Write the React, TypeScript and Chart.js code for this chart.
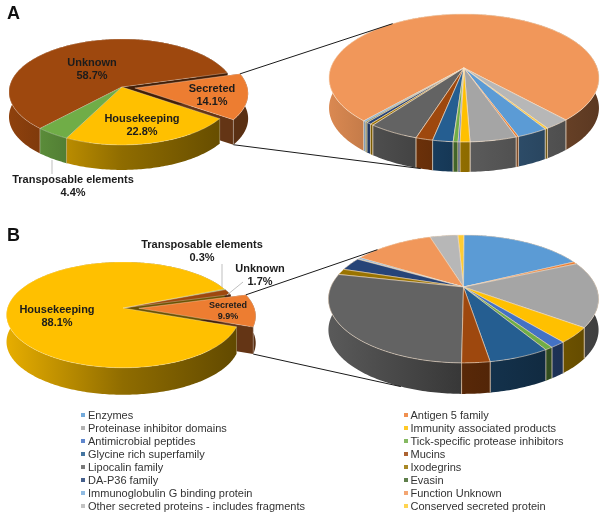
import React, { useEffect, useRef } from "react";
import { Chart, registerables } from "chart.js";

Chart.register(...registerables);

// ---------- data ----------
const overviewCategories = ["Secreted", "Housekeeping", "Transposable elements", "Unknown"];
const overviewColors = ["#ED7D31", "#FFC000", "#70AD47", "#9E480E"];
const overviewValuesA = [14.1, 22.8, 4.4, 58.7];
const overviewValuesB = [9.9, 88.1, 0.3, 1.7];

const secretedCategories = [
  "Enzymes", "Antigen 5 family",
  "Proteinase inhibitor domains", "Immunity associated products",
  "Antimicrobial peptides", "Tick-specific protease inhibitors",
  "Glycine rich superfamily", "Mucins",
  "Lipocalin family", "Ixodegrins",
  "DA-P36 family", "Evasin",
  "Immunoglobulin G binding protein", "Function Unknown",
  "Other secreted proteins - includes fragments", "Conserved secreted protein",
];
const secretedColors = [
  "#5B9BD5", "#ED7D31", "#A5A5A5", "#FFC000", "#4472C4", "#70AD47", "#255E91", "#9E480E",
  "#636363", "#997300", "#264478", "#43682B", "#7CAFDD", "#F1975A", "#B7B7B7", "#FFCD33",
];
const secretedValuesA = [3.2, 0.25, 4.8, 1.0, 0.2, 0.5, 2.1, 1.75, 5.25, 0.35, 0.5, 0.2, 0.3, 76.6, 2.65, 0.3];
const secretedValuesB = [17.7, 0.6, 16.6, 3.9, 1.6, 0.8, 6.1, 2.8, 28.2, 1.5, 3.3, 0.1, 0.4, 11.5, 4.0, 0.9];

// ---------- layout ----------
type Pie = { cx: number; cy: number; R: number; Ry: number; p: number; depth: number };
const pieLeftA: Pie = { cx: 122, cy: 87, R: 112.5, Ry: 52.5, p: 0.094, depth: 25 };
const pieLeftB: Pie = { cx: 123, cy: 308, R: 115.5, Ry: 52, p: 0.13, depth: 27 };
const pieRightA: Pie = { cx: 464, cy: 68, R: 133.3, Ry: 62.4, p: 0.156, depth: 30 };
const pieRightB: Pie = { cx: 463.5, cy: 287, R: 132.7, Ry: 61.7, p: 0.187, depth: 31 };

const FONT = '"Liberation Sans", Arial, sans-serif';
const RAD = Math.PI / 180;

function shade(hex: string, f: number) {
  const n = parseInt(hex.slice(1), 16);
  const c = [(n >> 16) & 255, (n >> 8) & 255, n & 255].map((v) => Math.round(v * f));
  return `rgb(${c[0]},${c[1]},${c[2]})`;
}

function project(pie: Pie, a: number, r: number, ex: number, ez: number, lift: number) {
  const x = r * Math.cos(a) + ex;
  const z = r * Math.sin(a) + ez;
  const s = 1 / (1 - pie.p * z);
  return [pie.cx + pie.R * x * s, pie.cy + pie.Ry * z * s + lift];
}

function tracePoly(ctx: CanvasRenderingContext2D, pts: number[][]) {
  ctx.beginPath();
  pts.forEach((q, i) => (i ? ctx.lineTo(q[0], q[1]) : ctx.moveTo(q[0], q[1])));
  ctx.closePath();
}

function arcPoints(pie: Pie, s: number, e: number, ex: number, ez: number, lift: number) {
  const n = Math.max(2, Math.ceil((e - s) / RAD));
  const pts: number[][] = [];
  for (let i = 0; i <= n; i++) pts.push(project(pie, s + ((e - s) * i) / n, 1, ex, ez, lift));
  return pts;
}

function explodeOf(arc: any) {
  const e = (arc.options.offset || 0) / arc.outerRadius;
  const mid = (arc.startAngle + arc.endAngle) / 2;
  return [e * Math.cos(mid), e * Math.sin(mid), e];
}

function pie3d(pie: Pie) {
  return {
    id: "pie3d",
    beforeDatasetsDraw(chart: any) {
      const ctx: CanvasRenderingContext2D = chart.ctx;
      const arcs: any[] = chart.getDatasetMeta(0).data.slice();
      const key = (arc: any) => {
        const [, ez, e] = explodeOf(arc);
        const mid = (arc.startAngle + arc.endAngle) / 2;
        return (e > 0 ? -10 : 0) + Math.sin(mid) * 0.6 + ez;
      };
      const order = arcs.slice().sort((a, b) => key(a) - key(b));
      ctx.save();
      ctx.lineJoin = "round";
      // walls
      for (const arc of order) {
        const [ex, ez] = explodeOf(arc);
        const base: string = arc.options.backgroundColor;
        const s = arc.startAngle;
        const e = arc.endAngle;
        const apex = project(pie, 0, 0, ex, ez, 0);
        const apexLow = project(pie, 0, 0, ex, ez, pie.depth);
        const edge = arc.options.borderColor;
        ctx.lineWidth = arc.options.borderWidth;
        ctx.strokeStyle = edge;
        [s, e].forEach((a) => {
          const t = project(pie, a, 1, ex, ez, 0);
          const b = project(pie, a, 1, ex, ez, pie.depth);
          tracePoly(ctx, [apex, t, b, apexLow]);
          ctx.fillStyle = shade(base, 0.42);
          ctx.fill();
        });
        const top = arcPoints(pie, s, e, ex, ez, 0);
        const low = arcPoints(pie, s, e, ex, ez, pie.depth).reverse();
        const g = ctx.createLinearGradient(pie.cx - pie.R, 0, pie.cx + pie.R, 0);
        g.addColorStop(0, shade(base, 0.9));
        g.addColorStop(0.5, shade(base, 0.56));
        g.addColorStop(1, shade(base, 0.38));
        tracePoly(ctx, top.concat(low));
        ctx.fillStyle = g;
        ctx.fill();
        // lines between slices on the visible rim
        [s, e].forEach((a) => {
          if (Math.sin(a) > -0.05) {
            const t = project(pie, a, 1, ex, ez, 0);
            const b = project(pie, a, 1, ex, ez, pie.depth);
            ctx.beginPath();
            ctx.moveTo(t[0], t[1]);
            ctx.lineTo(b[0], b[1]);
            ctx.stroke();
          }
        });
      }
      // top faces
      for (const arc of order) {
        const [ex, ez] = explodeOf(arc);
        const apex = project(pie, 0, 0, ex, ez, 0);
        const rim = arcPoints(pie, arc.startAngle, arc.endAngle, ex, ez, 0);
        tracePoly(ctx, [apex, ...rim]);
        ctx.fillStyle = arc.options.backgroundColor;
        ctx.fill();
        ctx.lineWidth = arc.options.borderWidth;
        ctx.strokeStyle = arc.options.borderColor;
        ctx.stroke();
      }
      ctx.restore();
      return false;
    },
  };
}

type Lbl = { i: number; x: number; y: number; size: number; gap: number };
type Leader = { from: number[]; to: number[] };

function annotations(
  pie: Pie,
  detail: Pie,
  letter: { text: string; x: number; y: number },
  labels: Lbl[],
  leaders: Leader[],
  upperAngle: number,
  lowerAngle: number,
) {
  return {
    id: "annotations",
    afterDraw(chart: any) {
      const ctx: CanvasRenderingContext2D = chart.ctx;
      const arc = chart.getDatasetMeta(0).data[0];
      const [ex, ez] = explodeOf(arc);
      ctx.save();
      // zoom connectors from the exploded slice to the detail pie
      const a1 = project(pie, arc.startAngle, 1, ex, ez, 0);
      const b1 = project(detail, upperAngle * RAD, 1, 0, 0, 0);
      const a2 = project(pie, arc.endAngle, 1, ex, ez, pie.depth);
      const b2 = project(detail, lowerAngle * RAD, 1, 0, 0, detail.depth);
      ctx.strokeStyle = "#1a1a1a";
      ctx.lineWidth = 1;
      [[a1, b1], [a2, b2]].forEach(([p, q]) => {
        ctx.beginPath();
        ctx.moveTo(p[0], p[1]);
        ctx.lineTo(q[0], q[1]);
        ctx.stroke();
      });
      // leader lines
      ctx.strokeStyle = "#BFBFBF";
      leaders.forEach((l) => {
        ctx.beginPath();
        ctx.moveTo(l.from[0], l.from[1]);
        ctx.lineTo(l.to[0], l.to[1]);
        ctx.stroke();
      });
      // labels
      ctx.textAlign = "center";
      ctx.textBaseline = "middle";
      ctx.fillStyle = "#1c1c1c";
      labels.forEach((l) => {
        ctx.font = `bold ${l.size}px ${FONT}`;
        ctx.fillText(String(chart.data.labels[l.i]), l.x, l.y);
        ctx.fillText(`${chart.data.datasets[0].data[l.i]}%`, l.x, l.y + l.gap);
      });
      ctx.font = `bold 18px ${FONT}`;
      ctx.textAlign = "left";
      ctx.fillStyle = "#111";
      ctx.fillText(letter.text, letter.x, letter.y);
      ctx.restore();
    },
  };
}

function makeChart(
  canvas: HTMLCanvasElement,
  labels: string[],
  values: number[],
  colors: string[],
  rotation: number,
  offsets: number[] | number,
  borderColor: string,
  borderWidth: number,
  plugins: any[],
) {
  return new Chart(canvas, {
    type: "pie",
    data: {
      labels,
      datasets: [{ data: values, backgroundColor: colors, offset: offsets as any, borderColor, borderWidth }],
    },
    options: {
      animation: false,
      responsive: false,
      rotation,
      plugins: { legend: { display: false }, tooltip: { enabled: false } },
    } as any,
    plugins,
  });
}

const canvasStyle: React.CSSProperties = { position: "absolute", left: 0, top: 0 };

export default function App() {
  const r1 = useRef<HTMLCanvasElement>(null);
  const r2 = useRef<HTMLCanvasElement>(null);
  const r3 = useRef<HTMLCanvasElement>(null);
  const r4 = useRef<HTMLCanvasElement>(null);

  useEffect(() => {
    const charts = [
      makeChart(r1.current!, secretedCategories, secretedValuesA, secretedColors, 148.1, 0,
        "rgba(250,228,205,0.8)", 0.8, [pie3d(pieRightA)]),
      makeChart(r2.current!, secretedCategories, secretedValuesB, secretedColors, 0.3, 0,
        "rgba(250,228,205,0.7)", 0.8, [pie3d(pieRightB)]),
      makeChart(r3.current!, overviewCategories, overviewValuesA, overviewColors, 74, [28, 0, 0, 0],
        "rgba(255,255,255,0.35)", 0.8, [
          pie3d(pieLeftA),
          annotations(pieLeftA, pieRightA, { text: "A", x: 7, y: 14 },
            [
              { i: 3, x: 92, y: 63, size: 11, gap: 13 },
              { i: 0, x: 212, y: 89, size: 11, gap: 13 },
              { i: 1, x: 142, y: 119, size: 11, gap: 13 },
              { i: 2, x: 73, y: 180, size: 11, gap: 13 },
            ],
            [{ from: [52, 160], to: [52, 174] }], 233, 106),
        ]),
      makeChart(r4.current!, overviewCategories, overviewValuesB, overviewColors, 74.5, [33, 0, 0, 0],
        "rgba(255,255,255,0.35)", 0.8, [
          pie3d(pieLeftB),
          annotations(pieLeftB, pieRightB, { text: "B", x: 7, y: 236 },
            [
              { i: 1, x: 57, y: 310, size: 11, gap: 13 },
              { i: 0, x: 228, y: 306, size: 9, gap: 11 },
              { i: 2, x: 202, y: 245, size: 11, gap: 13 },
              { i: 3, x: 260, y: 269, size: 11, gap: 13 },
            ],
            [
              { from: [222, 287], to: [222, 264] },
              { from: [227, 295], to: [243, 282] },
            ], 223, 113),
        ]),
    ];
    return () => charts.forEach((c) => c.destroy());
  }, []);

  return (
    <div style={{ position: "absolute", left: 0, top: 0, width: 600, height: 515, background: "#fff", overflow: "hidden" }}>
      <canvas ref={r1} width={600} height={515} style={canvasStyle} />
      <canvas ref={r2} width={600} height={515} style={canvasStyle} />
      <canvas ref={r3} width={600} height={515} style={canvasStyle} />
      <canvas ref={r4} width={600} height={515} style={canvasStyle} />
      <div
        style={{
          position: "absolute", left: 81, top: 409, display: "grid",
          gridTemplateColumns: "322.5px 190px", gridAutoRows: "12.93px",
          font: `11px ${FONT}`, color: "#333",
        }}
      >
        {secretedCategories.map((name, i) => (
          <div key={name} style={{ display: "flex", alignItems: "center", whiteSpace: "nowrap" }}>
            <span style={{ width: 4, height: 4, background: secretedColors[i], marginRight: 3, flex: "none", opacity: 0.85 }} />
            {name}
          </div>
        ))}
      </div>
    </div>
  );
}
